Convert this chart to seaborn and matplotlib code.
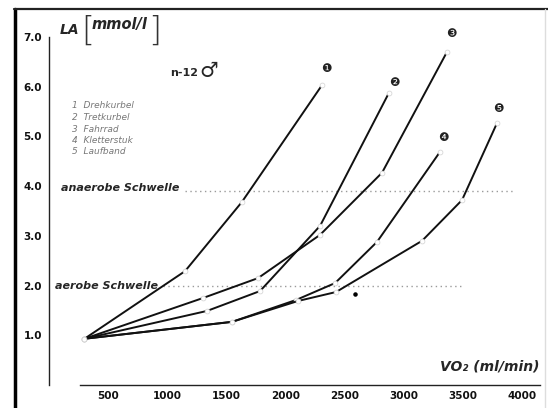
import matplotlib
matplotlib.use("Agg")
import matplotlib.pyplot as plt
import seaborn as sns
import pandas as pd
from matplotlib.lines import Line2D

# ---- data ----
vo2_1 = [300, 1150, 1630, 2310]
la_1 = [0.93, 2.29, 3.68, 6.04]
vo2_2 = [300, 1336, 1784, 2291, 2874]
la_2 = [0.93, 1.49, 1.89, 3.20, 5.88]
vo2_3 = [300, 1302, 1767, 2291, 2815, 3364]
la_3 = [0.93, 1.75, 2.15, 3.02, 4.27, 6.70]
vo2_4 = [300, 1547, 2088, 2418, 2773, 3305]
la_4 = [0.93, 1.27, 1.71, 2.05, 2.88, 4.69]
vo2_5 = [300, 1547, 2105, 2426, 3153, 3491, 3787]
la_5 = [0.93, 1.27, 1.69, 1.87, 2.90, 3.72, 5.27]
curve_labels = ["❶", "❷", "❸", "❹", "❺"]
curve_label_pos_x = [2341, 2916, 3398, 3330, 3795]
curve_label_pos_y = [6.36, 6.08, 7.06, 4.97, 5.57]
legend_lines = ["1  Drehkurbel", "2  Tretkurbel", "3  Fahrrad", "4  Kletterstuk", "5  Laufband"]
anaerob_level = 3.9
anaerob_x = [1150, 3940]
aerob_level = 2.0
aerob_x = [963, 3508]
extra_dot_x = [2587]
extra_dot_y = [1.83]
x_ticks = [500, 1000, 1500, 2000, 2500, 3000, 3500, 4000]
y_ticks = [1, 2, 3, 4, 5, 6, 7]
y_tick_labels = ["1.0", "2.0", "3.0", "4.0", "5.0", "6.0", "7.0"]

sns.set_style("white")
plt.rcParams['font.family'] = ['DejaVu Sans', 'Noto Sans CJK SC']

W, H = 548, 408
fig = plt.figure(figsize=(W / 100, H / 100), dpi=100)
ax = fig.add_axes([49 / W, (H - 385) / H, 491 / W, 355 / H])
ax.set_xlim(0, 4150)
ax.set_ylim(0, 7.14)

curves = [(vo2_1, la_1), (vo2_2, la_2), (vo2_3, la_3), (vo2_4, la_4), (vo2_5, la_5)]
for i, (xs, ys) in enumerate(curves):
    df = pd.DataFrame({"VO2": xs, "LA": ys})
    sns.lineplot(data=df, x="VO2", y="LA", ax=ax, color="#111111", lw=1.4,
                 marker="o", markersize=3.5, markerfacecolor="white",
                 markeredgecolor="#d0d0d0", markeredgewidth=0.5, sort=False, zorder=3)

# threshold dotted lines
sns.lineplot(x=anaerob_x, y=[anaerob_level] * 2, ax=ax, color="#9a9a9a", lw=1.0,
             linestyle=(0, (1, 2.5)), zorder=2)
sns.lineplot(x=aerob_x, y=[aerob_level] * 2, ax=ax, color="#9a9a9a", lw=1.0,
             linestyle=(0, (1, 2.5)), zorder=2)
ax.scatter(extra_dot_x, extra_dot_y, s=5, color="black", zorder=4)

for lab, cx, cy in zip(curve_labels, curve_label_pos_x, curve_label_pos_y):
    ax.text(cx, cy, lab, fontsize=8.5, ha="center", va="center",
            color="#222222", family=['DejaVu Sans', 'Noto Sans CJK SC'])

ax.set_xlabel("")
ax.set_ylabel("")
sns.despine(ax=ax)
ax.spines["left"].set_bounds(0, 7.0)
ax.spines["bottom"].set_bounds(260, 4150)
for sp in ("left", "bottom"):
    ax.spines[sp].set_linewidth(1.0)
    ax.spines[sp].set_color("#222222")

ax.set_xticks(x_ticks)
ax.set_xticklabels([str(t) for t in x_ticks], fontsize=7.5, fontweight="bold")
ax.set_yticks(y_ticks)
ax.set_yticklabels(y_tick_labels, fontsize=7.5, fontweight="bold")
ax.tick_params(axis="both", direction="inout", length=4, width=0.8, colors="#111111")
ax.tick_params(axis="x", pad=2)
ax.tick_params(axis="y", pad=3)

def ft(x, y, s, **kw):
    fig.text(x / W, 1 - y / H, s, **kw)

# axis titles
ft(60, 30, "LA", fontsize=10, fontweight="bold", style="italic", va="center")
ft(81, 31, "[", fontsize=24, fontweight="light", va="center", color="#333333")
ft(92, 24, "mmol/l", fontsize=10.5, fontweight="bold", style="italic", va="center")
ft(148, 31, "]", fontsize=24, fontweight="light", va="center", color="#333333")
ft(540, 366, "VO₂ (ml/min)", fontsize=10, fontweight="bold", style="italic",
   ha="right", va="center")

ft(170, 73, "n-12", fontsize=8, fontweight="bold", va="center")
ft(199, 71, "♂", fontsize=15, va="center")

for k, line in enumerate(legend_lines):
    ft(72, 106 + k * 11.5, line, fontsize=6.5, style="italic", color="#777777", va="center")

ft(61, 188, "anaerobe Schwelle", fontsize=8, fontweight="bold", style="italic", va="center")
ft(55, 286, "aerobe Schwelle", fontsize=8, fontweight="bold", style="italic", va="center")

# photographic frame lines
fig.add_artist(Line2D([15 / W, 15 / W], [0, 1 - 9 / H], color="black", lw=2.5,
                      transform=fig.transFigure))
fig.add_artist(Line2D([14 / W, 1], [1 - 9 / H, 1 - 9 / H], color="#222222", lw=1.6,
                      transform=fig.transFigure))
fig.add_artist(Line2D([545 / W, 545 / W], [0, 1 - 9 / H], color="#dddddd", lw=1.0,
                      transform=fig.transFigure))

fig.savefig("out.png", dpi=100, facecolor="white")
